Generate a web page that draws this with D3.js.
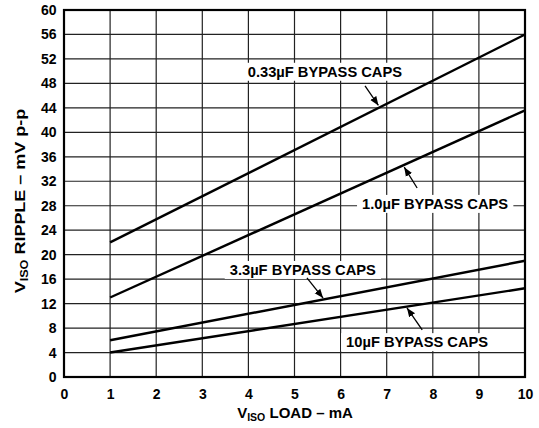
<!DOCTYPE html>
<html><head><meta charset="utf-8">
<script src="https://cdn.jsdelivr.net/npm/d3@7"></script>
<style>
body{margin:0;background:#fff;}
text{font-family:"Liberation Sans",Arial,sans-serif;font-weight:bold;fill:#000;}
</style></head>
<body><svg id="c" width="539" height="428"></svg>
<script>
const xTicks = [0,1,2,3,4,5,6,7,8,9,10];
const yTicks = [0,4,8,12,16,20,24,28,32,36,40,44,48,52,56,60];
const loads = [1, 10];
const seriesNames = ["0.33µF BYPASS CAPS","1.0µF BYPASS CAPS","3.3µF BYPASS CAPS","10µF BYPASS CAPS"];
const ripple033 = [22, 56];
const ripple10 = [13, 43.6];
const ripple33 = [6, 19];
const ripple100 = [4, 14.5];
// label centers and arrow [from, to] in data units
const labelPos = [[5.66, 49.9],[8.05, 28.3],[5.18, 17.5],[7.66, 5.7]];
const arrows = [[[6.53,47.6],[6.82,44.4]],[[7.66,30.9],[7.38,34.3]],[[5.27,16.2],[5.62,12.9]],[[7.77,7.7],[7.44,11.3]]];

const svg = d3.select("#c");
const L=64, R=525, T=10, B=377;
const x = d3.scaleLinear().domain([0,10]).range([L,R]);
const y = d3.scaleLinear().domain([0,60]).range([B,T]);

svg.append("defs").append("marker").attr("id","ah").attr("viewBox","0 0 10 10")
  .attr("refX",10).attr("refY",5).attr("markerWidth",9).attr("markerHeight",9)
  .attr("markerUnits","userSpaceOnUse").attr("orient","auto")
  .append("path").attr("d","M0,1 L10,5 L0,9 Z").attr("fill","#000");

// grid
const g = svg.append("g");
g.selectAll(".vx").data(xTicks.slice(1,-1)).join("line")
  .attr("x1",d=>x(d)).attr("x2",d=>x(d)).attr("y1",T).attr("y2",B)
  .attr("stroke","#222").attr("stroke-width",1.2);
g.selectAll(".hy").data(yTicks.slice(1,-1)).join("line")
  .attr("y1",d=>y(d)).attr("y2",d=>y(d)).attr("x1",L).attr("x2",R)
  .attr("stroke","#222").attr("stroke-width",1.2);

// axes tick labels
const xa = d3.axisBottom(x).tickValues(xTicks).tickSize(0).tickPadding(12);
svg.append("g").attr("transform",`translate(0,${B})`).call(xa)
  .call(s=>s.select(".domain").remove())
  .selectAll("text").style("font-size","14px").style("font-family","Liberation Sans, Arial").style("font-weight","bold");
const ya = d3.axisLeft(y).tickValues(yTicks).tickSize(0).tickPadding(7.5);
svg.append("g").attr("transform",`translate(${L},0)`).call(ya)
  .call(s=>s.select(".domain").remove())
  .selectAll("text").style("font-size","14px").style("font-family","Liberation Sans, Arial").style("font-weight","bold");

// data lines
const allSeries = [ripple033, ripple10, ripple33, ripple100];
const line = d3.line().x(d=>x(d[0])).y(d=>y(d[1]));
svg.selectAll(".ser").data(allSeries).join("path")
  .attr("d",d=>line(loads.map((l,i)=>[l,d[i]])))
  .attr("fill","none").attr("stroke","#000").attr("stroke-width",2.4);

// labels with white box
seriesNames.forEach((name,i)=>{
  const gl = svg.append("g");
  const t = gl.append("text").attr("x",x(labelPos[i][0])).attr("y",y(labelPos[i][1]))
    .attr("text-anchor","middle").attr("dominant-baseline","central")
    .style("font-size","14.7px").text(name);
  const bb = t.node().getBBox();
  gl.insert("rect","text").attr("x",bb.x-5).attr("y",bb.y-1).attr("width",bb.width+10).attr("height",bb.height+2).attr("fill","#fff");
  svg.append("line").attr("x1",x(arrows[i][0][0])).attr("y1",y(arrows[i][0][1]))
    .attr("x2",x(arrows[i][1][0])).attr("y2",y(arrows[i][1][1]))
    .attr("stroke","#000").attr("stroke-width",1.3).attr("marker-end","url(#ah)");
});

// frame
svg.append("rect").attr("x",L).attr("y",T).attr("width",R-L).attr("height",B-T)
  .attr("fill","none").attr("stroke","#000").attr("stroke-width",2.2);

// axis titles
const xt = svg.append("text").attr("x",295).attr("y",418).attr("text-anchor","middle").style("font-size","15px");
xt.append("tspan").text("V");
xt.append("tspan").attr("dy",3).style("font-size","10.5px").text("ISO");
xt.append("tspan").attr("dy",-3).text(" LOAD – mA");
const yt = svg.append("text").attr("transform",`translate(25,201) rotate(-90) scale(1.2,1)`).attr("text-anchor","middle").style("font-size","15px");
yt.append("tspan").text("V");
yt.append("tspan").attr("dy",3).style("font-size","10.5px").text("ISO");
yt.append("tspan").attr("dy",-3).text(" RIPPLE – mV p-p");
</script></body></html>
